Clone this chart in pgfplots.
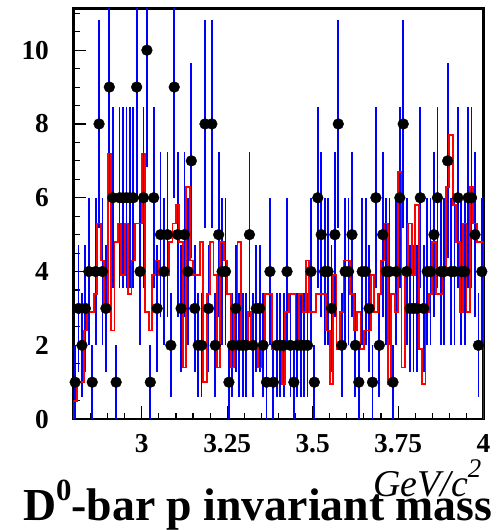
\documentclass[border=0pt]{standalone}
\usepackage{fontspec}
\setmainfont{Liberation Serif}
\usepackage{pgfplots}
\pgfplotsset{compat=1.18}
\usepackage{pgfplotstable}

% data: bin centre, counts, sqrt(counts)
\pgfplotstableread{
x y e
2.805 1 1
2.815 3 1.732
2.825 2 1.414
2.835 3 1.732
2.845 4 2
2.855 1 1
2.865 4 2
2.875 8 2.828
2.885 4 2
2.895 3 1.732
2.905 9 3
2.915 6 2.449
2.925 1 1
2.935 6 2.449
2.945 6 2.449
2.955 6 2.449
2.965 6 2.449
2.975 6 2.449
2.985 9 3
2.995 4 2
3.005 6 2.449
3.015 10 3.162
3.025 1 1
3.035 6 2.449
3.045 3 1.732
3.055 5 2.236
3.065 4 2
3.075 5 2.236
3.085 2 1.414
3.095 9 3
3.105 5 2.236
3.115 3 1.732
3.125 5 2.236
3.135 4 2
3.145 7 2.646
3.155 3 1.732
3.165 2 1.414
3.175 2 1.414
3.185 8 2.828
3.195 3 1.732
3.205 8 2.828
3.215 2 1.414
3.225 5 2.236
3.235 4 2
3.245 4 2
3.255 1 1
3.265 2 1.414
3.275 3 1.732
3.285 2 1.414
3.295 2 1.414
3.305 2 1.414
3.315 5 2.236
3.325 2 1.414
3.335 3 1.732
3.345 3 1.732
3.355 2 1.414
3.365 1 1
3.375 4 2
3.385 1 1
3.395 2 1.414
3.405 2 1.414
3.415 2 1.414
3.425 4 2
3.435 2 1.414
3.445 1 1
3.455 2 1.414
3.465 2 1.414
3.475 2 1.414
3.485 2 1.414
3.495 4 2
3.505 1 1
3.515 6 2.449
3.525 5 2.236
3.535 4 2
3.545 4 2
3.555 3 1.732
3.565 5 2.236
3.575 8 2.828
3.585 2 1.414
3.595 4 2
3.605 4 2
3.615 5 2.236
3.625 2 1.414
3.635 1 1
3.645 4 2
3.655 4 2
3.665 3 1.732
3.675 1 1
3.685 6 2.449
3.695 2 1.414
3.705 5 2.236
3.715 4 2
3.725 4 2
3.735 1 1
3.745 4 2
3.755 6 2.449
3.765 8 2.828
3.775 4 2
3.785 3 1.732
3.795 3 1.732
3.805 3 1.732
3.815 6 2.449
3.825 3 1.732
3.835 4 2
3.845 4 2
3.855 5 2.236
3.865 6 2.449
3.875 4 2
3.885 4 2
3.895 7 2.646
3.905 4 2
3.915 4 2
3.925 6 2.449
3.935 4 2
3.945 4 2
3.955 6 2.449
3.965 6 2.449
3.975 5 2.236
3.985 2 1.414
3.995 4 2
}\datatable

% simulation histogram: bin left edge, content
\pgfplotstableread{
x y
2.80 0
2.80 0.5
2.81 1.0
2.82 1.0
2.83 2.4
2.84 2.9
2.85 2.9
2.86 3.4
2.87 5.3
2.88 4.3
2.89 2.9
2.90 7.2
2.91 2.4
2.92 4.8
2.93 5.3
2.94 3.9
2.95 5.3
2.96 3.4
2.97 4.3
2.98 5.3
2.99 5.3
3.00 7.2
3.01 2.9
3.02 2.4
3.03 3.9
3.04 4.3
3.05 3.9
3.06 3.9
3.07 3.9
3.08 4.8
3.09 5.3
3.10 5.8
3.11 4.8
3.12 1.4
3.13 6.3
3.14 4.3
3.15 3.9
3.16 3.9
3.17 4.8
3.18 1.0
3.19 3.4
3.20 4.8
3.21 3.9
3.22 1.4
3.23 4.8
3.24 4.3
3.25 3.4
3.26 1.4
3.27 2.9
3.28 4.8
3.29 1.9
3.30 1.9
3.31 2.9
3.32 1.9
3.33 1.9
3.34 1.4
3.35 1.9
3.36 3.4
3.37 3.4
3.38 1.9
3.39 1.9
3.40 1.9
3.41 0.95
3.42 2.9
3.43 3.4
3.44 3.4
3.45 1.9
3.46 3.4
3.47 2.9
3.48 4.3
3.49 2.9
3.50 2.9
3.51 3.4
3.52 3.4
3.53 3.4
3.54 2.4
3.55 0.95
3.56 3.9
3.57 1.9
3.58 2.9
3.59 4.3
3.60 4.3
3.61 3.4
3.62 2.4
3.63 2.9
3.64 1.9
3.65 2.4
3.66 2.4
3.67 3.9
3.68 2.9
3.69 3.4
3.70 4.3
3.71 5.3
3.72 0.95
3.73 3.4
3.74 2.9
3.75 6.7
3.76 1.4
3.77 3.9
3.78 5.3
3.79 3.9
3.80 5.8
3.81 1.9
3.82 0.95
3.83 2.9
3.84 3.4
3.85 4.8
3.86 3.4
3.87 3.4
3.88 3.9
3.89 6.3
3.90 7.7
3.91 5.8
3.92 4.8
3.93 2.9
3.94 5.3
3.95 2.9
3.96 6.3
3.97 5.3
3.98 4.8
3.99 4.8
4.00 4.8
4.00 0
}\mctable

\begin{document}
\begin{tikzpicture}
\begin{axis}[
  name=ax,
  scale only axis,
  width=410.5bp, height=411bp,
  xmin=2.8, xmax=4.0, ymin=0, ymax=11.13,
  axis line style={line width=2.5bp},
  tick align=inside,
  xtick pos=bottom, ytick pos=left,
  xtick={3,3.25,3.5,3.75,4},
  xticklabels={3,3.25,3.5,3.75,4},
  minor xtick={2.85,2.9,2.95,3.05,3.1,3.15,3.2,3.3,3.35,3.4,3.45,3.55,3.6,3.65,3.7,3.8,3.85,3.9,3.95},
  ytick={0,2,4,6,8,10},
  yticklabels={0,2,4,6,8,10},
  minor ytick={0.5,1,1.5,2.5,3,3.5,4.5,5,5.5,6.5,7,7.5,8.5,9,9.5,10.5,11},
  major tick length=13bp, minor tick length=6.5bp,
  every tick/.style={black, line width=1.1bp},
  tick label style={font=\fontsize{27.5}{27.5}\selectfont\bfseries},
  xticklabel style={yshift=-12bp},
  yticklabel style={xshift=-21bp},
]
\addplot[only marks, mark=*, mark size=5.4bp,
  mark options={draw=black, fill=black},
  error bars/.cd, y dir=both, y explicit,
  error bar style={blue, line width=1.8bp}, error mark=none]
  table[x=x, y=y, y error=e] {\datatable};
\addplot[red, line width=1.8bp, const plot, mark=none] table[x=x, y=y] {\mctable};
\end{axis}
\node[anchor=base east, inner sep=0, font=\fontsize{38}{38}\selectfont\itshape]
  at ([xshift=-2bp, yshift=-77bp]ax.south east) {GeV/c\raisebox{0.48em}{\fontsize{27}{27}\selectfont 2}};
\node[anchor=base, inner sep=0, font=\fontsize{46}{46}\selectfont\bfseries]
  at ([xshift=184.5bp, yshift=-101bp]ax.south west) {D\raisebox{0.42em}{\fontsize{31}{31}\selectfont 0}-bar p invariant mass};
\pgfresetboundingbox
\path[use as bounding box] ([xshift=-73.5bp, yshift=-111bp]ax.south west) rectangle ([xshift=20bp, yshift=8.5bp]ax.north east);
\end{tikzpicture}
\end{document}
